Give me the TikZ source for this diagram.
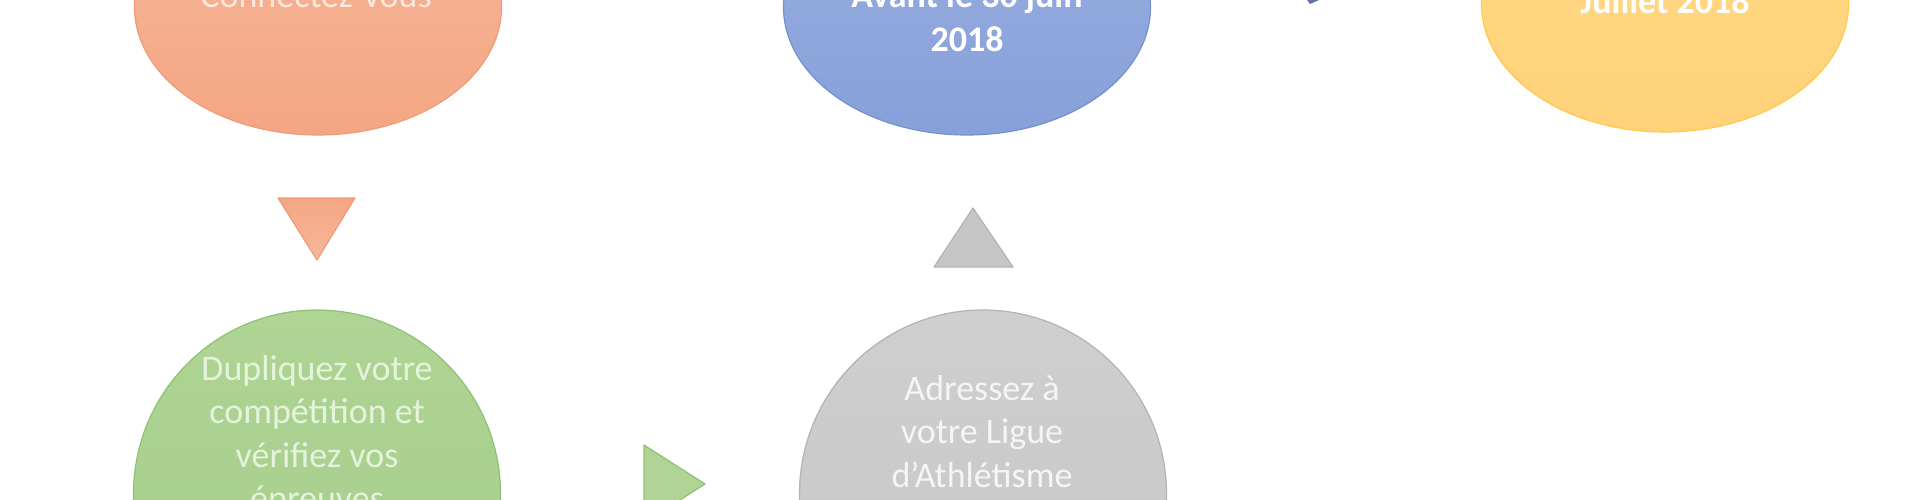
\documentclass[tikz,border=0pt]{standalone}
\usepackage{fontspec}
\setmainfont{Carlito}
\usetikzlibrary{shapes.geometric,shadings}
\definecolor{orfill}{HTML}{F5AD8C}
\definecolor{ortop}{HTML}{F6B89C}
\definecolor{orbot}{HTML}{F4A683}
\definecolor{oredge}{HTML}{EE9C78}
\definecolor{ortext}{HTML}{FCE8DC}
\definecolor{grtop}{HTML}{AFD495}
\definecolor{grbot}{HTML}{A4CD89}
\definecolor{gredge}{HTML}{8FC174}
\definecolor{grtext}{HTML}{E6F3DC}
\definecolor{bltop}{HTML}{99AFDF}
\definecolor{blbot}{HTML}{87A0D9}
\definecolor{bledge}{HTML}{7590CE}
\definecolor{gytop}{HTML}{CFCFCF}
\definecolor{gybot}{HTML}{C6C6C6}
\definecolor{gyedge}{HTML}{B3B3B3}
\definecolor{gytext}{HTML}{F5F5F5}
\definecolor{yltop}{HTML}{FFD887}
\definecolor{ylbot}{HTML}{FFD27A}
\definecolor{yledge}{HTML}{FFC94A}
\definecolor{sliver}{HTML}{6070A8}
\begin{document}
\begin{tikzpicture}[x=1pt,y=-1pt,
  blob/.style={ellipse, inner sep=0pt, line width=1.2pt, minimum width=367pt},
  flatblob/.style={blob, minimum height=256pt},
  roundblob/.style={blob, minimum height=368pt},
  lbl/.style={anchor=base, inner sep=0pt, font=\fontsize{36}{43.5}\selectfont},
  blbl/.style={lbl, font=\fontsize{36}{43.5}\selectfont\bfseries, text=white},
  tri/.style={line width=1.2pt, line join=round}]
\useasboundingbox (0,0) rectangle (1920,500);
\fill[white] (0,0) rectangle (1920,500);
\clip (0,0) rectangle (1920,500);

% circles / ellipses
\node[flatblob, draw=oredge, top color=ortop, bottom color=orbot] (connect) at (318,7) {};
\node[flatblob, draw=bledge, top color=bltop, bottom color=blbot] (avant) at (967,7) {};
\node[flatblob, draw=yledge, top color=yltop, bottom color=ylbot] (juillet) at (1665,4) {};
\node[roundblob, draw=gredge, top color=grtop, bottom color=grbot] (dupl) at (317,494) {};
\node[roundblob, draw=gyedge, top color=gytop, bottom color=gybot] (adr) at (983,494) {};

% arrows (triangles)
\path[tri, draw=oredge, top color=orbot, bottom color=ortop] (278,198) -- (355,198) -- (317,260) -- cycle;
\path[tri, draw=gredge, fill=grtop] (644,445) -- (705,484) -- (644,523) -- cycle;
\path[tri, draw=gyedge, fill=gybot] (934,267) -- (1013,267) -- (973,208) -- cycle;
\fill[sliver] (1307,0) -- (1319,0) -- (1310,4) -- cycle;

% texts
\node[lbl, text=ortext] (t1) at (316,8) {Connectez-vous};
\node[blbl] (t2a) at (967,8) {Avant le 30 juin};
\node[blbl] (t2b) at (967,52) {2018};
\node[blbl] (t3) at (1665,14) {Juillet 2018};
\node[lbl, text=grtext] (g1) at (317,380) {Dupliquez votre};
\node[lbl, text=grtext] (g2) at (317,423) {compétition et};
\node[lbl, text=grtext] (g3) at (317,467) {vérifiez vos};
\node[lbl, text=grtext] (g4) at (317,510) {épreuves};
\node[lbl, text=gytext] (a1) at (982,400) {Adressez à};
\node[lbl, text=gytext] (a2) at (982,443) {votre Ligue};
\node[lbl, text=gytext] (a3) at (982,487) {d’Athlétisme};
\end{tikzpicture}
\end{document}
